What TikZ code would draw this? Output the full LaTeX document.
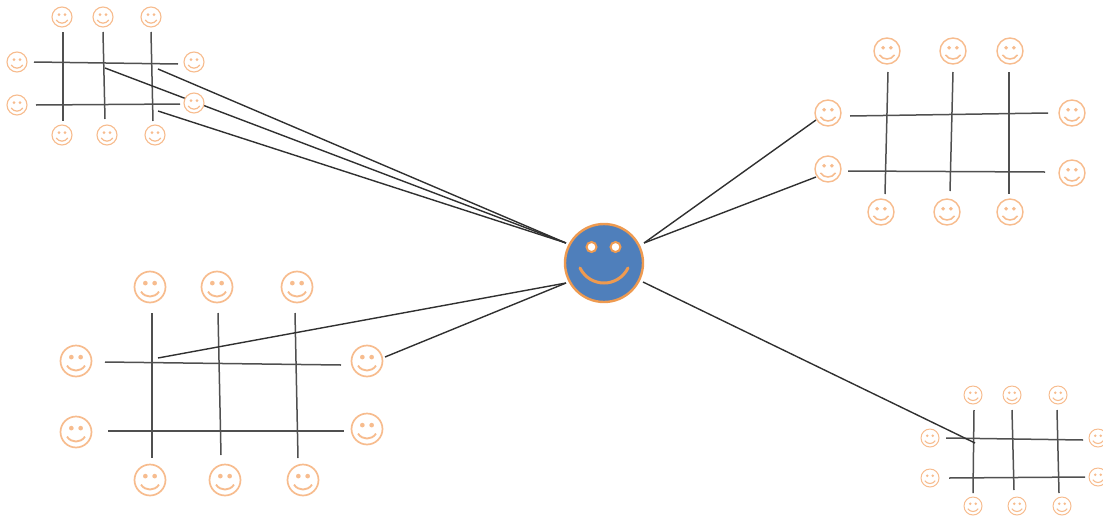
\documentclass[tikz,border=0pt]{standalone}
\definecolor{faceline}{HTML}{F7BC8E}
\definecolor{hubline}{HTML}{EE9A50}
\definecolor{hubfill}{HTML}{4F7FBB}
\definecolor{wire}{HTML}{303030}
\definecolor{softwire}{HTML}{505050}
\tikzset{
  x=1pt,y=-1pt,
  facebase/.style={circle,inner sep=0pt,outer sep=0pt,draw=faceline,fill=white},
  hubbase/.style={circle,inner sep=0pt,outer sep=0pt,draw=hubline,fill=hubfill,line width=2.4pt,minimum size=78pt},
  gridline/.style={draw=softwire,line width=1.5pt},
  link/.style={draw=wire,line width=1.4pt}
}
% #1 name, #2 x, #3 y, #4 radius
\newcommand{\facenode}[4]{%
  \node[facebase,line width=0.11*#4 pt,minimum size=2*#4 pt] (#1) at (#2,#3) {};
  \begin{scope}[shift={(#1.center)},x=#4 pt,y=-#4 pt]
    \fill[faceline] (-0.3,-0.25) circle[radius=0.15];
    \fill[faceline] (0.3,-0.25) circle[radius=0.15];
    \draw[faceline,line width=0.12*#4 pt] (-0.58,0.3) .. controls (-0.3,0.72) and (0.3,0.72) .. (0.58,0.3);
  \end{scope}}
\newcommand{\gline}[5]{%
  \coordinate (#1a) at (#2,#3);
  \coordinate (#1b) at (#4,#5);
  \draw[gridline] (#1a) -- (#1b);}
\begin{document}
\begin{tikzpicture}
\useasboundingbox (0,0) rectangle (1103,517);
% top-left group lines
\gline{av1}{63}{32}{63}{121}
\gline{av2}{103}{32}{105}{119}
\gline{av3}{151}{32}{153}{121}
\gline{ah1}{34}{62}{178}{64}
\gline{ah2}{36}{105}{180}{104}
% top-right group
\foreach \n/\a/\b in {b1/887/51,b2/953/51,b3/1010/51,b4/828/113,b5/828/169,b6/1072/113,b7/1072/173,b8/881/212,b9/947/212,b10/1010/212}{\facenode{\n}{\a}{\b}{13}}
\gline{bv1}{888}{72}{885}{194}
\gline{bv2}{953}{72}{950}{191}
\gline{bv3}{1009}{72}{1009}{194}
\gline{bh1}{850}{116}{1048}{113}
\gline{bh2}{848}{171}{1045}{172}
% bottom-left group
\foreach \n/\a/\b in {c1/150/287,c2/217/287,c3/297/287,c4/76/361,c5/76/432,c6/367/361,c7/367/429,c8/150/480,c9/225/480,c10/303/480}{\facenode{\n}{\a}{\b}{15.5}}
\gline{cv1}{152}{313}{152}{458}
\gline{cv2}{218}{313}{221}{455}
\gline{cv3}{295}{313}{298}{458}
\gline{ch1}{105}{362}{341}{365}
\gline{ch2}{108}{431}{344}{431}
% bottom-right group
\foreach \n/\a/\b in {d1/973/395,d2/1012/395,d3/1058/395,d4/930/438,d5/930/478,d6/1098/438,d7/1098/477,d8/973/506,d9/1017/506,d10/1062/506}{\facenode{\n}{\a}{\b}{9}}
\gline{dv1}{974}{410}{973}{493}
\gline{dv2}{1012}{410}{1014}{490}
\gline{dv3}{1057}{410}{1059}{493}
\gline{dh1}{946}{438}{1083}{440}
\gline{dh2}{949}{478}{1085}{477}
% hub
\node[hubbase] (hub) at (604,263) {};
\draw[hubline,line width=2pt,fill=white] (591.5,247) circle[radius=5];
\draw[hubline,line width=2pt,fill=white] (615.5,247) circle[radius=5];
\draw[hubline,line width=3pt,line cap=round] (580,268) .. controls (590,288) and (618,288) .. (628,268);
% free ends of the connectors
\coordinate (e1) at (158,69);
\coordinate (e2) at (105,68);
\coordinate (e3) at (158,111);
\coordinate (e4) at (158,358);
\coordinate (e5) at (385,357);
\coordinate (e6) at (816,120);
\coordinate (e7) at (816,177);
\coordinate (e8) at (975,443);
\coordinate (hl) at (566,243);
\coordinate (hm) at (566,283);
\coordinate (hr) at (644,243);
\coordinate (hs) at (643,282);
\draw[link] (hl) -- (e1);
\draw[link] (hl) -- (e2);
\draw[link] (hl) -- (e3);
\draw[link] (hm) -- (e4);
\draw[link] (hm) -- (e5);
\draw[link] (hr) -- (e6);
\draw[link] (hr) -- (e7);
\draw[link] (hs) -- (e8);
% top-left group faces, over the connectors
\foreach \n/\a/\b in {a1/62/17,a2/103/17,a3/151/17,a4/17/62,a5/17/105,a6/194/62,a7/194/103,a8/62/135,a9/107/135,a10/155/135}{\facenode{\n}{\a}{\b}{10}}
\end{tikzpicture}
\end{document}
